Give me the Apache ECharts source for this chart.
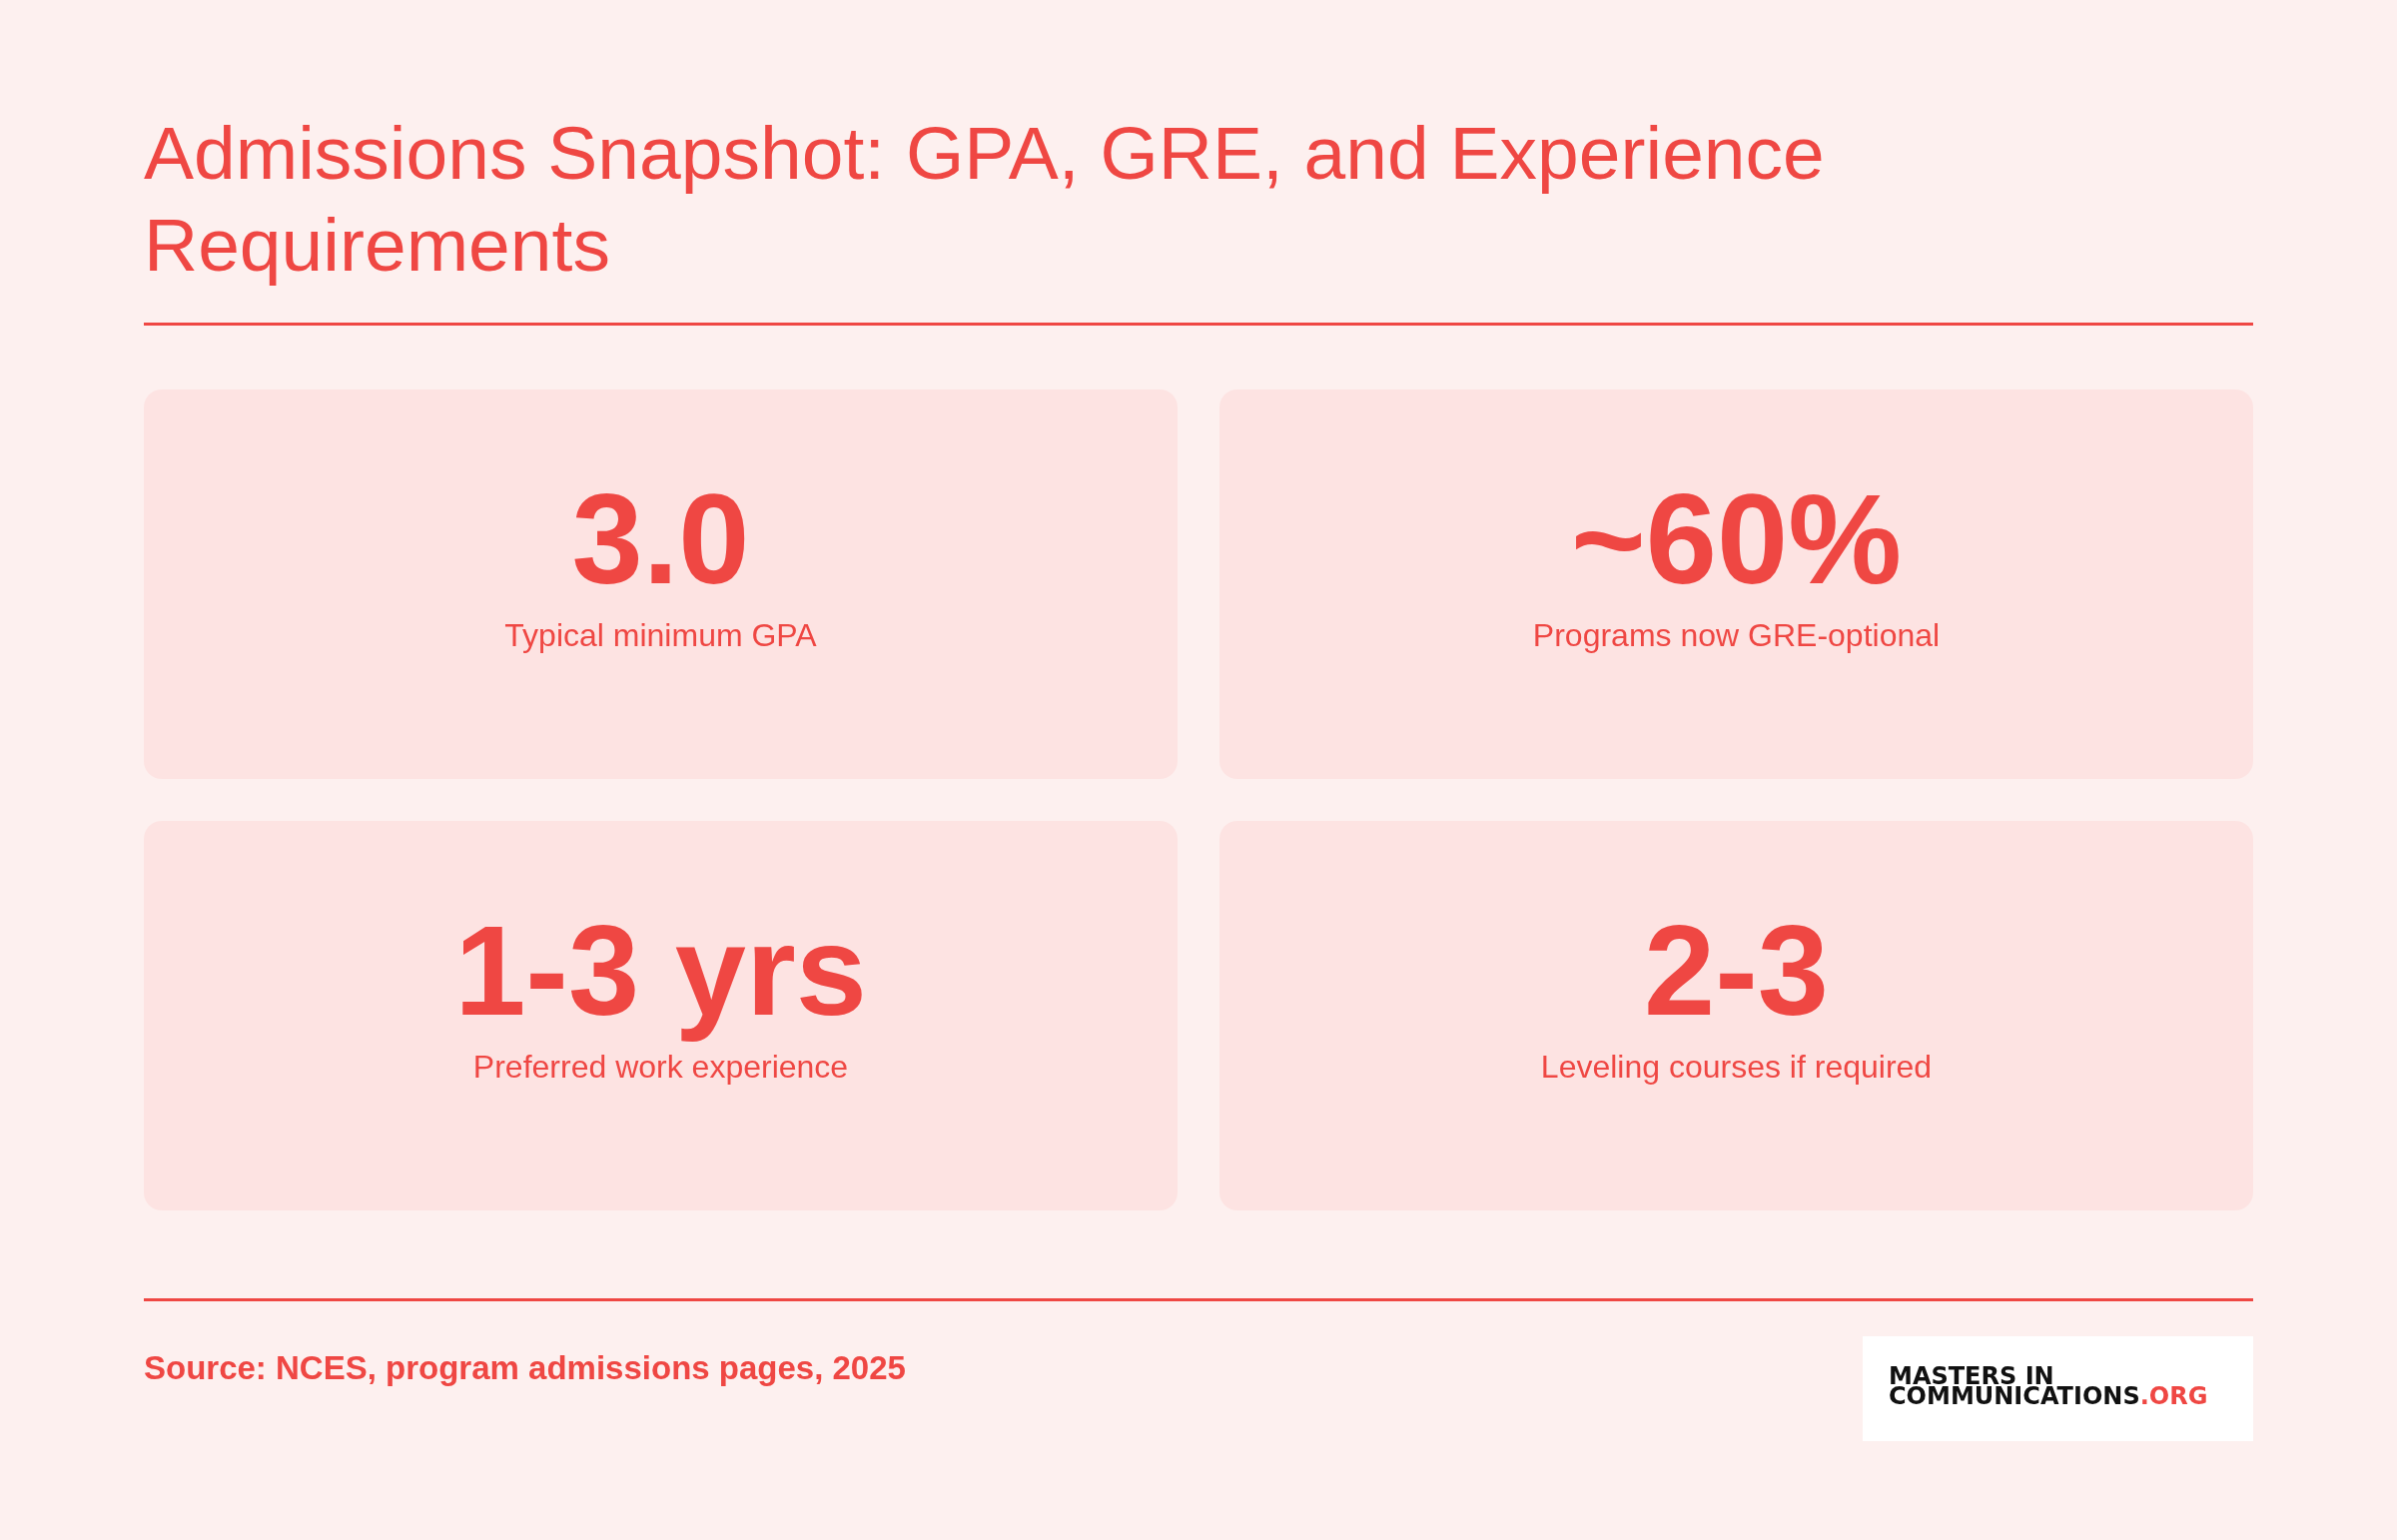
<!DOCTYPE html>
<html><head><meta charset="utf-8">
<style>html,body{margin:0;padding:0;background:#fdf0ef}#c{width:2400px;height:1542px}</style>
<script src="https://cdn.jsdelivr.net/npm/echarts@6/dist/echarts.min.js"></script>
</head><body><div id="c"></div>
<script>
var statValues = ['3.0', '~60%', '1-3 yrs', '2-3'];
var statLabels = ['Typical minimum GPA', 'Programs now GRE-optional', 'Preferred work experience', 'Leveling courses if required'];
var titleText = 'Admissions Snapshot: GPA, GRE, and Experience\nRequirements';
var sourceText = 'Source: NCES, program admissions pages, 2025';

var red = '#ef4743';
var font = '"Liberation Sans", Arial, sans-serif';
var logoFont = '"DejaVu Sans", sans-serif';
var chart = echarts.init(document.getElementById('c'));
var els = [];
//标题
els.push({type: 'text', left: 144, top: 112, style: {text: titleText, fill: red, font: '75px ' + font, lineHeight: 92}});
els.push({type: 'rect', shape: {x: 144, y: 323, width: 2112, height: 3}, style: {fill: red}});
//卡片
var cardW = 1035, cardH = 390;
for (var i = 0; i < statValues.length; i++) {
	var x = 144 + (i % 2) * 1077;
	var y = 390 + Math.floor(i / 2) * 432;
	els.push({type: 'rect', shape: {x: x, y: y, width: cardW, height: cardH, r: 18}, style: {fill: '#fde3e2'}});
	els.push({type: 'text', x: x + cardW / 2, y: y + 159, style: {text: statValues[i], fill: red, font: 'bold 128px ' + font, textAlign: 'center', textVerticalAlign: 'middle'}});
	els.push({type: 'text', x: x + cardW / 2, y: y + 248, style: {text: statLabels[i], fill: red, font: '32px ' + font, textAlign: 'center', textVerticalAlign: 'middle'}});
}
//底部
els.push({type: 'rect', shape: {x: 144, y: 1300, width: 2112, height: 3}, style: {fill: red}});
els.push({type: 'text', x: 144, y: 1372, style: {text: sourceText, fill: red, font: 'bold 33px ' + font, textVerticalAlign: 'middle'}});
els.push({type: 'rect', shape: {x: 1865, y: 1338, width: 391, height: 105}, style: {fill: '#ffffff'}});
els.push({type: 'text', x: 1891, y: 1380, style: {text: 'MASTERS IN', fill: '#111', font: 'bold 24px ' + logoFont, textVerticalAlign: 'middle'}});
els.push({type: 'text', x: 1891, y: 1400, style: {
	text: '{a|COMMUNICATIONS}{b|.ORG}', textVerticalAlign: 'middle',
	rich: {a: {fill: '#111', font: 'bold 24px ' + logoFont}, b: {fill: red, font: 'bold 24px ' + logoFont}}
}});
chart.setOption({backgroundColor: '#fdf0ef', graphic: {elements: els}});
</script></body></html>
